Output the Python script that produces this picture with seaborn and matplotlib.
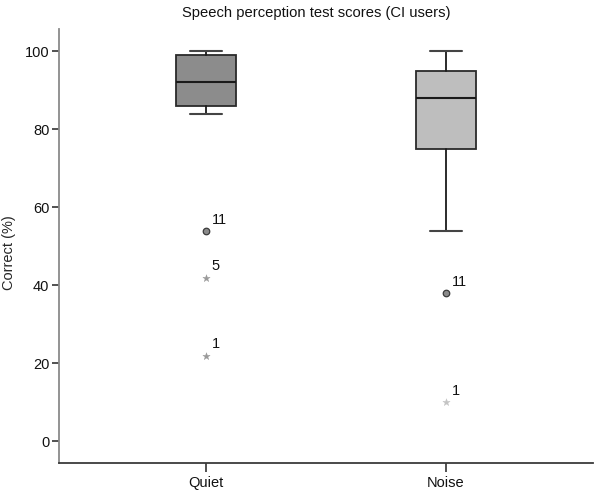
import matplotlib
matplotlib.use("Agg")
import matplotlib.pyplot as plt
import seaborn as sns
import pandas as pd

# ---- data ----
conditions = ["Quiet", "Noise"]
whisker_low = [84, 54]
q1 = [86, 75]
median = [92, 88]
q3 = [99, 95]
whisker_high = [100, 100]
box_colors = ["#8c8c8c", "#bebebe"]

outlier_condition = ["Quiet", "Quiet", "Quiet", "Noise", "Noise"]
outlier_value = [54, 42, 22, 38, 10]
outlier_case = ["11", "5", "1", "11", "1"]
outlier_kind = ["outlier", "extreme", "extreme", "outlier", "extreme"]

title = "Speech perception test scores (CI users)"
ylabel = "Correct (%)"
yticks = [0, 20, 40, 60, 80, 100]

sns.set_theme(style="white")
plt.rcParams["font.family"] = ["Liberation Sans", "DejaVu Sans"]
plt.rcParams["font.size"] = 10

fig = plt.figure(figsize=(6.0, 4.97), dpi=100)
ax = fig.add_axes([0.0983, 0.069, 0.890, 0.872])

stats = []
for i, c in enumerate(conditions):
    stats.append(dict(label=c, whislo=whisker_low[i], q1=q1[i], med=median[i],
                      q3=q3[i], whishi=whisker_high[i], fliers=[]))
pos = list(range(len(conditions)))
bp = ax.bxp(stats, positions=pos, widths=0.252, patch_artist=True,
            showfliers=False, capwidths=0.13,
            boxprops=dict(edgecolor="#2a2a2a", linewidth=1.3),
            medianprops=dict(color="#1a1a1a", linewidth=1.5),
            whiskerprops=dict(color="#1a1a1a", linewidth=1.3),
            capprops=dict(color="#444444", linewidth=1.5))
for patch, col in zip(bp["boxes"], box_colors):
    patch.set_facecolor(col)

df = pd.DataFrame(dict(cond=outlier_condition, value=outlier_value,
                       case=outlier_case, kind=outlier_kind))
df["x"] = df["cond"].map({c: i for i, c in enumerate(conditions)})
circ = df[df["kind"] == "outlier"]
ext = df[df["kind"] == "extreme"]
sns.scatterplot(data=circ, x="x", y="value", marker="o", s=22,
                color="#8a8a8a", edgecolor="#3a3a3a", linewidth=0.9,
                ax=ax, legend=False, zorder=5)
ext_colors = {"Quiet": "#9a9a9a", "Noise": "#c4c4c4"}
for c in conditions:
    sub = ext[ext["cond"] == c]
    sns.scatterplot(data=sub, x="x", y="value", marker="*", s=30,
                    color=ext_colors[c], edgecolor=ext_colors[c], linewidth=0.3,
                    ax=ax, legend=False, zorder=5)
for _, r in df.iterrows():
    ax.annotate(r["case"], (r["x"], r["value"]), xytext=(4, 3),
                textcoords="offset points", ha="left", va="bottom",
                fontsize=10.5, color="#111111")

ax.set_xlim(-0.613, 1.613)
ax.set_ylim(-5.45, 105.6)
ax.set_xticks(pos)
ax.set_xticklabels(conditions)
ax.set_yticks(yticks)
ax.set_xlabel("")
ax.set_ylabel(ylabel, fontsize=10.5)
ax.yaxis.set_label_coords(-0.080, 0.484)

for s in ["top", "right"]:
    ax.spines[s].set_visible(False)
ax.spines["left"].set_color("#8a8a8a")
ax.spines["left"].set_linewidth(1.3)
ax.spines["bottom"].set_color("#3a3a3a")
ax.spines["bottom"].set_linewidth(1.3)
ax.tick_params(axis="both", which="major", direction="out", width=1.2,
               color="#333333", labelsize=10.5, labelcolor="#111111")
ax.tick_params(axis="x", bottom=True, length=6.5, pad=3)
ax.tick_params(axis="y", left=True, length=5, pad=2)

fig.text(316 / 600, 1 - 13 / 497, title, ha="center", va="center",
         fontsize=10.6, color="#111111")

fig.savefig("out.png", dpi=100)
